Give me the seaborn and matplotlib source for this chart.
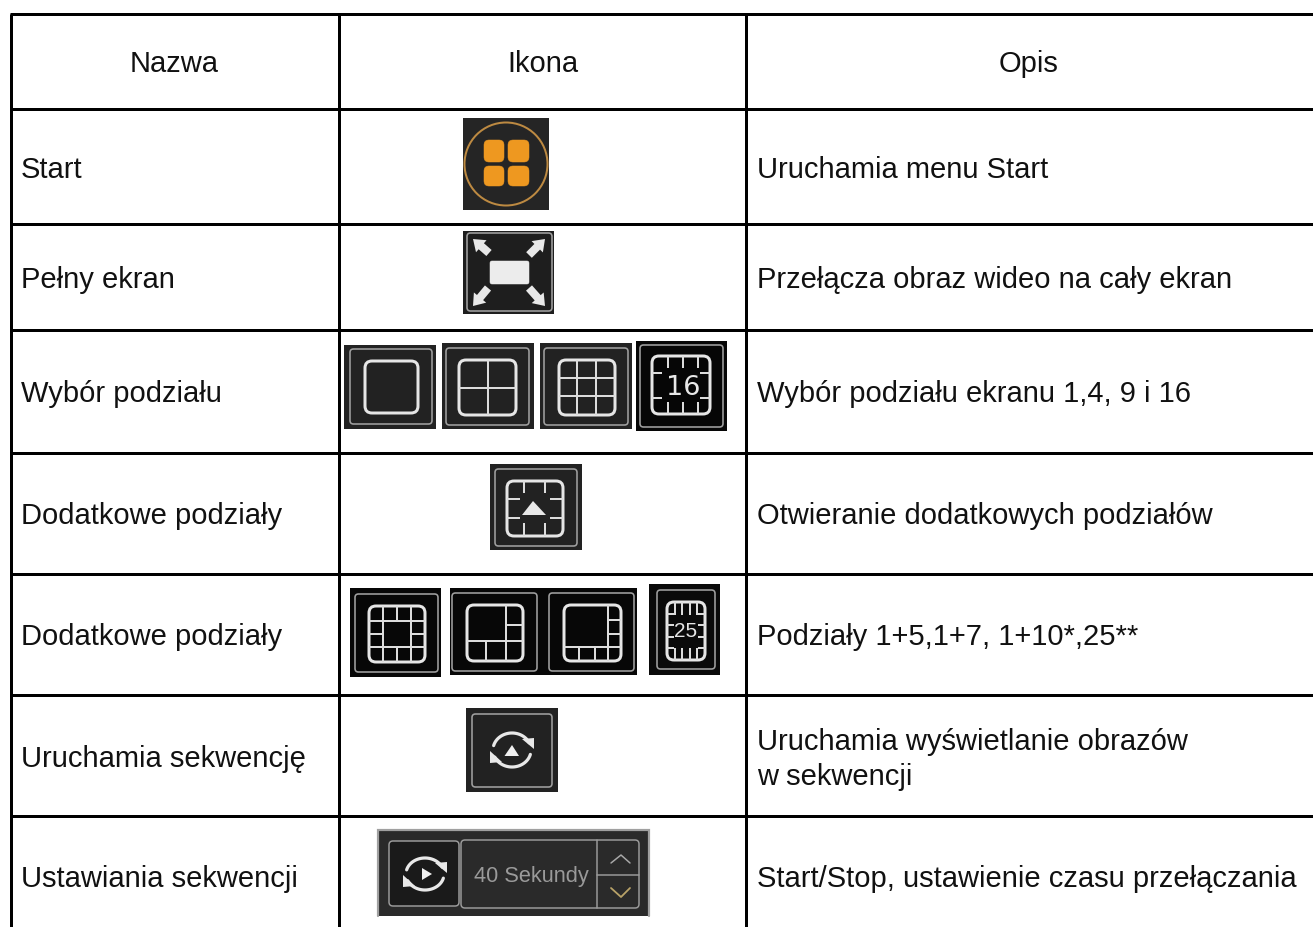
import matplotlib
matplotlib.use("Agg")
import matplotlib.pyplot as plt
import numpy as np
import seaborn as sns
from matplotlib.patches import Circle, FancyBboxPatch, Polygon, Rectangle

headers = ["Nazwa", "Ikona", "Opis"]
names = ["Start", "Pełny ekran", "Wybór podziału", "Dodatkowe podziały",
         "Dodatkowe podziały", "Uruchamia sekwencję", "Ustawiania sekwencji"]
descriptions = ["Uruchamia menu Start", "Przełącza obraz wideo na cały ekran",
                "Wybór podziału ekranu 1,4, 9 i 16", "Otwieranie dodatkowych podziałów",
                "Podziały 1+5,1+7, 1+10*,25**",
                "Uruchamia wyświetlanie obrazów\nw sekwencji",
                "Start/Stop, ustawienie czasu przełączania"]
row_edges = [14.5, 110, 225, 331, 454, 575, 696, 817]
col_edges = [11, 338.5, 746]
row_centers = [168, 278, 392, 514, 635, 757, 877]

sns.set_theme(style="white")
plt.rcParams["font.family"] = ["Liberation Sans", "DejaVu Sans"]

PX = 0.72
FS = 21
fig, ax = plt.subplots(figsize=(13.13, 9.28), dpi=100)
ax.set_position([0, 0, 1, 1])
ax.set_xlim(0, 1313)
ax.set_ylim(928, 0)
ax.set_xticks([])
ax.set_yticks([])
sns.despine(ax=ax, left=True, bottom=True)

# table rules
ax.hlines(row_edges, col_edges[0] - 1.5, 1313, color="black", lw=3 * PX, capstyle="butt")
ax.vlines(col_edges, row_edges[0], 928, color="black", lw=3 * PX, capstyle="butt")

for x, h in zip([174, 543, 1029], headers):
    ax.text(x, 72, h, ha="center", va="baseline", fontsize=FS, color="#111111")
for y, n in zip(row_centers, names):
    ax.text(21, y + 10, n, ha="left", va="baseline", fontsize=FS, color="#111111")
for y, d in zip(row_centers, descriptions):
    if "\n" in d:
        ax.text(757, y - 7, d.split("\n")[0], ha="left", va="baseline", fontsize=FS, color="#111111")
        ax.text(757, y + 28, d.split("\n")[1], ha="left", va="baseline", fontsize=FS, color="#111111")
    else:
        ax.text(757, y + 10, d, ha="left", va="baseline", fontsize=FS, color="#111111")


def rbox(x0, y0, x1, y1, ec, lw, r=4, fc="none", z=3):
    ax.add_patch(FancyBboxPatch((x0, y0), x1 - x0, y1 - y0, boxstyle=f"round,pad=0,rounding_size={r}",
                                fc=fc, ec=ec, lw=lw * PX, zorder=z))


def icon(bg_box, frame, inner, bg="#222222", segs=()):
    x0, y0, x1, y1 = bg_box
    ax.add_patch(Rectangle((x0, y0), x1 - x0, y1 - y0, fc=bg, ec="none", zorder=2))
    rbox(*frame, "#a0a0a0", 1.6, r=3.5)
    if inner is None:
        return
    ix0, iy0, ix1, iy1 = inner
    rbox(ix0, iy0, ix1, iy1, "#e6e6e6", 3, r=7, z=4)
    w, h = ix1 - ix0, iy1 - iy0
    for (a, b, c, d) in segs:
        ax.plot([ix0 + a * w, ix0 + c * w], [iy0 + b * h, iy0 + d * h],
                color="#dcdcdc", lw=2 * PX, zorder=4, solid_capstyle="butt")


def arrow(tail, tip, hw=8, hl=11, tw=8):
    tail, tip = np.array(tail, float), np.array(tip, float)
    u = (tip - tail) / np.hypot(*(tip - tail))
    n = np.array([-u[1], u[0]])
    neck = tip - u * hl
    ax.add_patch(Polygon([tail + n * tw / 2, neck + n * tw / 2, neck + n * hw, tip, neck - n * hw,
                          neck - n * tw / 2, tail - n * tw / 2], fc="#e8e8e8", ec="none", zorder=4))


def refresh(cx, cy, rx, ry, lw=3.2):
    t = np.radians(np.linspace(25, 165, 40))
    ax.plot(cx + rx * np.cos(t), cy - ry * np.sin(t), color="#e8e8e8", lw=lw * PX, zorder=4)
    t = np.radians(np.linspace(205, 345, 40))
    ax.plot(cx + rx * np.cos(t), cy - ry * np.sin(t), color="#e8e8e8", lw=lw * PX, zorder=4)
    ax.add_patch(Polygon([[cx + rx - 9, cy - 11], [cx + rx + 3, cy - 12], [cx + rx + 3, cy - 1]],
                         fc="#e8e8e8", ec="none", zorder=4))
    ax.add_patch(Polygon([[cx - rx + 9, cy + 12], [cx - rx - 3, cy + 13], [cx - rx - 3, cy + 1]],
                         fc="#e8e8e8", ec="none", zorder=4))


# Start
ax.add_patch(Rectangle((463, 119), 86, 92, fc="#252525", ec="none", zorder=2))
ax.add_patch(Circle((506, 165), 41.5, fc="none", ec="#bd8a42", lw=2 * PX, zorder=3))
for qx in [(484, 504), (508, 529)]:
    for qy in [(141, 163), (167, 187)]:
        rbox(qx[0], qy[0], qx[1], qy[1], "#ee9820", 0.5, r=5, fc="#ee9820")

# Pelny ekran
icon((463, 232, 554, 315), (467, 234, 552, 312), None, bg="#1e1e1e")
rbox(490, 262, 529, 285, "#ececec", 0.5, r=2, fc="#ececec")
for tail, tip in [((489, 254), (473, 240)), ((529, 256), (545, 240)),
                  ((488, 289), (473, 307)), ((529, 289), (545, 307))]:
    arrow(tail, tip)

# Wybor podzialu
icon((344, 346, 436, 430), (350, 350, 432, 425), (365, 362, 418, 414))
icon((442, 344, 534, 430), (446, 349, 529, 426), (459, 361, 516, 416),
     segs=[(0.5, 0, 0.5, 1), (0, 0.5, 1, 0.5)])
icon((540, 344, 632, 430), (544, 349, 628, 426), (559, 361, 615, 416),
     segs=[(0.33, 0, 0.33, 1), (0.66, 0, 0.66, 1), (0, 0.33, 1, 0.33), (0, 0.66, 1, 0.66)])
stubs16 = [(f, 0, f, 0.2) for f in (0.28, 0.54, 0.8)] + [(f, 0.8, f, 1) for f in (0.28, 0.54, 0.8)] + \
          [(0, f, 0.17, f) for f in (0.3, 0.72)] + [(0.83, f, 1, f) for f in (0.3, 0.72)]
icon((636, 342, 727, 432), (640, 346, 723, 428), (652, 357, 710, 415), bg="#060606", segs=stubs16)
ax.text(683, 388, "16", ha="center", va="center", fontsize=19.5, color="#e8e8e8",
        family="DejaVu Sans", zorder=5)

# Dodatkowe podzialy
stubs_up = [(f, 0, f, 0.22) for f in (0.3, 0.67)] + [(f, 0.76, f, 1) for f in (0.3, 0.67)] + \
           [(0, f, 0.24, f) for f in (0.33, 0.67)] + [(0.76, f, 1, f) for f in (0.33, 0.67)]
icon((490, 465, 582, 551), (495, 470, 577, 547), (507, 482, 563, 537), bg="#222222", segs=stubs_up)
ax.add_patch(Polygon([[533, 502], [522, 516], [546, 516]], fc="#e8e8e8", ec="none", zorder=5))

# Podzialy 1+5, 1+7, 1+10, 25
icon((350, 589, 441, 678), (355, 595, 438, 673), (369, 607, 425, 663), bg="#070707",
     segs=[(0.25, 0, 0.25, 1), (0.75, 0, 0.75, 1), (0, 0.26, 1, 0.26), (0, 0.74, 1, 0.74),
           (0.5, 0, 0.5, 0.26), (0.5, 0.74, 0.5, 1), (0, 0.5, 0.25, 0.5), (0.75, 0.5, 1, 0.5)])
icon((450, 589, 637, 676), (452, 594, 537, 672), (467, 606, 523, 662), bg="#070707",
     segs=[(0.7, 0, 0.7, 1), (0, 0.65, 1, 0.65), (0.34, 0.65, 0.34, 1), (0.7, 0.35, 1, 0.35)])
icon((450, 589, 450, 589), (549, 594, 634, 672), (564, 606, 621, 662), bg="#070707",
     segs=[(0.78, 0, 0.78, 1), (0, 0.75, 1, 0.75), (0.26, 0.75, 0.26, 1), (0.55, 0.75, 0.55, 1),
           (0.78, 0.27, 1, 0.27), (0.78, 0.52, 1, 0.52)])
stubs25 = [(f, 0, f, 0.22) for f in (0.2, 0.4, 0.6, 0.8)] + [(f, 0.8, f, 1) for f in (0.2, 0.4, 0.6, 0.8)] + \
          [(0, f, 0.18, f) for f in (0.2, 0.4, 0.6, 0.8)] + [(0.82, f, 1, f) for f in (0.2, 0.4, 0.6, 0.8)]
icon((649, 585, 720, 676), (657, 591, 715, 670), (667, 603, 705, 661), bg="#0a0a0a", segs=stubs25)
ax.text(686, 632, "25", ha="center", va="center", fontsize=15, color="#e5e5e5", zorder=5)

# Uruchamia sekwencje
icon((466, 709, 558, 793), (472, 715, 552, 788), None, bg="#222222")
refresh(512, 751, 19, 17)
ax.add_patch(Polygon([[512, 746], [504.5, 757], [519, 757]], fc="#f0f0f0", ec="none", zorder=5))

# Ustawiania sekwencji
ax.add_patch(Rectangle((377, 830), 273, 87, fc="#2a2a2a", ec="none", zorder=2))
ax.plot([378, 378, 649, 649], [917, 831, 831, 917], color="#a0a0a0", lw=2.2 * PX, zorder=3, solid_joinstyle="miter")
rbox(389, 842, 459, 907, "#9a9a9a", 1.5, r=4, fc="#1a1a1a")
rbox(461, 841, 639, 909, "#9a9a9a", 1.5, r=4)
ax.plot([597, 597], [841, 909], color="#9a9a9a", lw=1.5 * PX, zorder=4)
ax.plot([597, 639], [876, 876], color="#9a9a9a", lw=1.5 * PX, zorder=4)
refresh(425, 875, 19, 16)
ax.add_patch(Polygon([[422, 869], [432, 875], [422, 881]], fc="#f0f0f0", ec="none", zorder=5))
ax.text(531, 877, "40 Sekundy", ha="center", va="center", fontsize=15.7, color="#9a9a9a", zorder=5)
ax.plot([611, 621, 630], [864, 856, 864], color="#a8a8a8", lw=1.5 * PX, zorder=4)
ax.plot([611, 621, 630], [889, 898, 889], color="#b8a268", lw=1.8 * PX, zorder=4)

fig.savefig("out.png", dpi=100, facecolor="white")
